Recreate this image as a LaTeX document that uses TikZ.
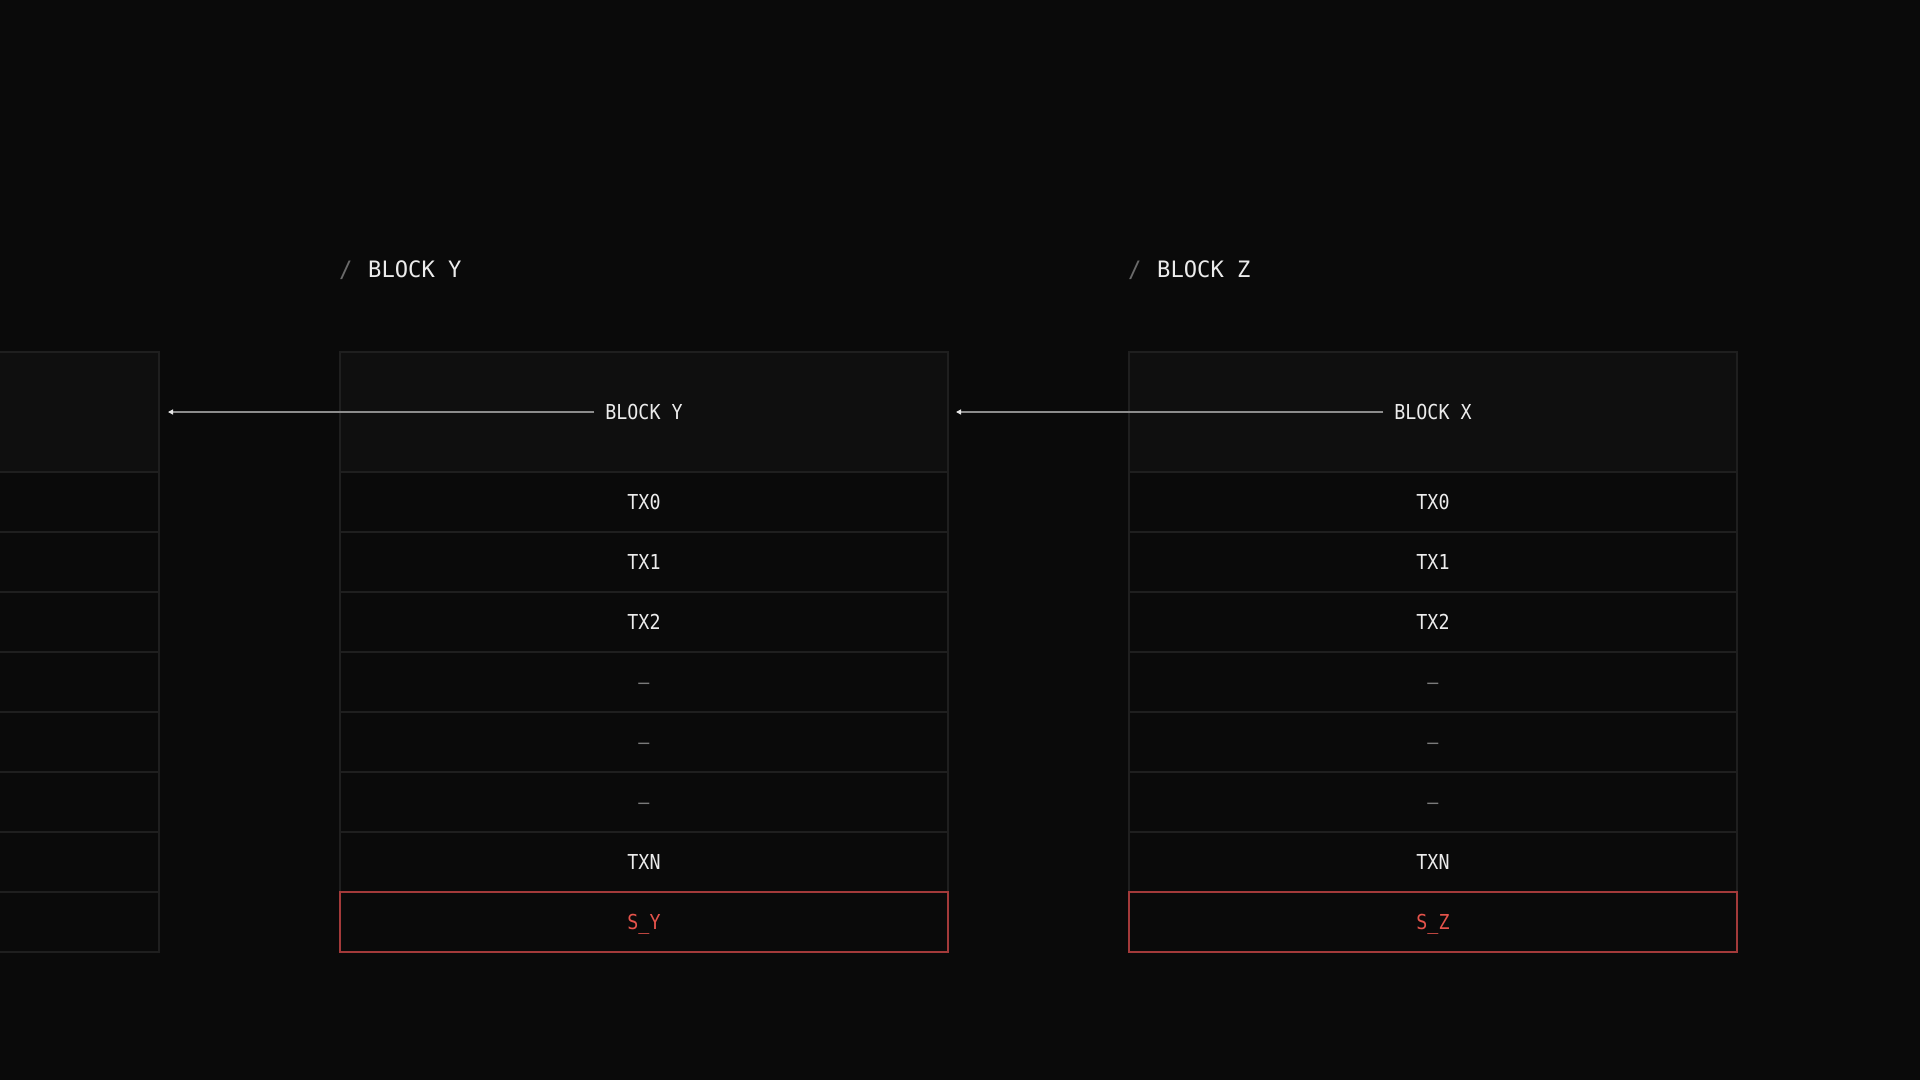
\documentclass[tikz,border=0pt]{standalone}
\usepackage{fontspec}
\usetikzlibrary{arrows.meta,calc}
\newfontfamily\bodyfont[FakeStretch=0.89]{DejaVu Sans Mono}
\newfontfamily\titlefont[FakeStretch=0.98]{DejaVu Sans Mono}
\newcommand\bodytext{\bodyfont\fontsize{20.6}{24}\selectfont}
\newcommand\titletext{\titlefont\fontsize{22.6}{26}\selectfont}
\definecolor{bg}{HTML}{0A0A0A}
\definecolor{headfill}{HTML}{0F0F0F}
\definecolor{cellline}{HTML}{1F1F1F}
\definecolor{txt}{HTML}{ECECEC}
\definecolor{dashc}{HTML}{7A7A7A}
\definecolor{slashc}{HTML}{6A6A6A}
\definecolor{redline}{HTML}{A33A3A}
\definecolor{redtxt}{HTML}{E5534B}
\definecolor{arrowc}{HTML}{8C8C8C}
\definecolor{tipc}{HTML}{E6E6E6}
\newcommand\drawblock[4]{%
  \node[headcell] (#1h) at (#2,412) {};
  \node[hlabel] (#1hl) at (#2,412) {#3};
  \foreach \lab/\col [count=\i from 0] in {TX0/txt,TX1/txt,TX2/txt,\textendash/dashc,\textendash/dashc,\textendash/dashc,TXN/txt} {
    \node[cell,text=\col] (#1r\i) at (#2,{502+60*\i}) {\lab};
  }
  \node[cell,#4] (#1s) at (#2,922) {};
}
\newcommand\drawblank[2]{%
  \node[headcell] (#1h) at (#2,412) {};
  \foreach \i in {0,...,7} {
    \node[cell] (#1r\i) at (#2,{502+60*\i}) {};
  }
}
\begin{document}
\begin{tikzpicture}[x=1pt,y=-1pt,
  cell/.style={draw=cellline, line width=1.3pt, minimum width=608pt, minimum height=60pt,
    inner sep=0pt, outer sep=0pt, text height=15pt, text depth=0pt, font=\bodytext, text=txt},
  headcell/.style={cell, fill=headfill, minimum height=120pt},
  hlabel/.style={inner xsep=11pt, inner ysep=0pt, outer sep=0pt, text height=15pt, text depth=0pt,
    font=\bodytext, text=txt},
  lastred/.style={draw=redline, line width=1.5pt},
  conn/.style={draw=arrowc, line width=1.4pt, -{Triangle[length=5pt,width=5pt,color=tipc]}},
  titleslash/.style={anchor=base west, inner sep=0pt, font=\titletext, text=slashc},
  titlemain/.style={anchor=base west, inner sep=0pt, font=\titletext, text=txt}]
\useasboundingbox (0,0) rectangle (1920,1080);
\fill[bg] (0,0) rectangle (1920,1080);
\clip (0,0) rectangle (1920,1080);

\drawblank{X}{-145}
\drawblock{Y}{644}{BLOCK Y}{lastred}
\drawblock{Z}{1433}{BLOCK X}{lastred}

\node[cell,draw=none,text=redtxt] (Yst) at (Ys) {S\_Y};
\node[cell,draw=none,text=redtxt] (Zst) at (Zs) {S\_Z};

\draw[conn] (Yhl.west) -- ([xshift=9pt]Xh.east);
\draw[conn] (Zhl.west) -- ([xshift=8pt]Yh.east);

\node[titleslash] (Yslash) at (339,277) {/};
\node[titlemain] (Ytitle) at (368,277) {BLOCK Y};
\node[titleslash] (Zslash) at (1128,277) {/};
\node[titlemain] (Ztitle) at (1157,277) {BLOCK Z};
\end{tikzpicture}
\end{document}
